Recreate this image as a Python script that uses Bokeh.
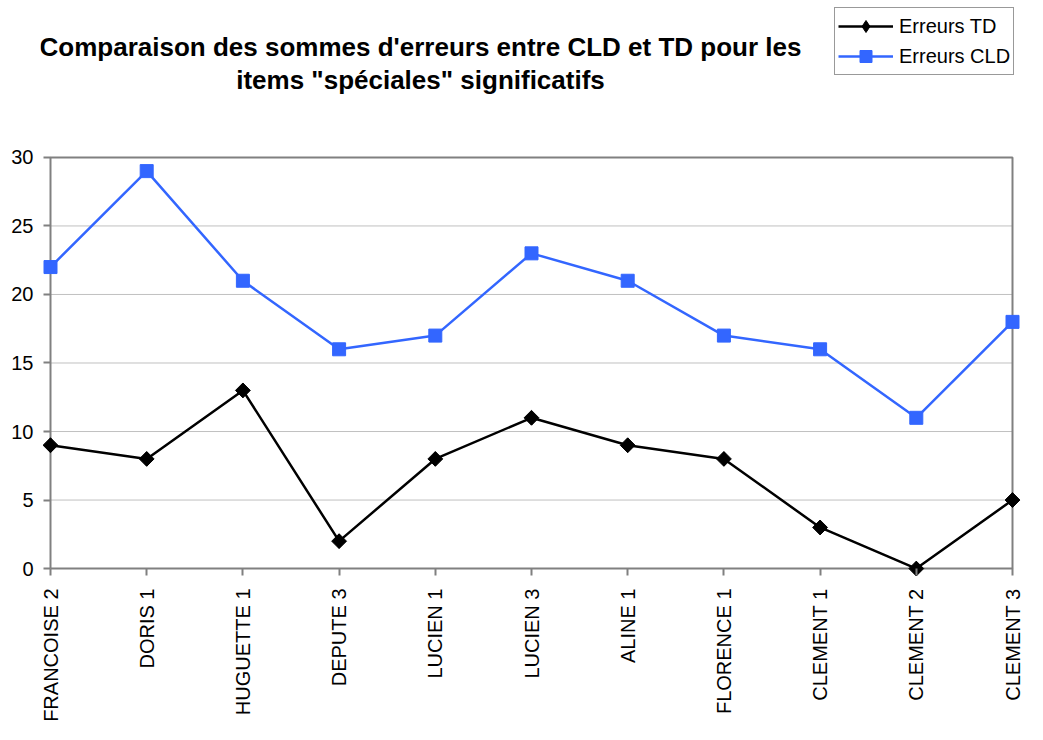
from bokeh.plotting import figure
from bokeh.models import Label, Legend, LegendItem, FixedTicker, Range1d
from bokeh.embed import file_html
from bokeh.resources import INLINE
import math

categories = ["FRANCOISE 2", "DORIS 1", "HUGUETTE 1", "DEPUTE 3", "LUCIEN 1", "LUCIEN 3",
              "ALINE 1", "FLORENCE 1", "CLEMENT 1", "CLEMENT 2", "CLEMENT 3"]
erreurs_td = [9, 8, 13, 2, 8, 11, 9, 8, 3, 0, 5]
erreurs_cld = [22, 29, 21, 16, 17, 23, 21, 17, 16, 11, 18]
y_ticks = [0, 5, 10, 15, 20, 25, 30]
title_lines = ["Comparaison des sommes d'erreurs entre CLD et TD pour les",
               "items \"spéciales\" significatifs"]

FONT = "Liberation Sans"
GRAY = "#808080"
xs = list(range(len(categories)))
x_last = xs[-1]
y_max = y_ticks[-1]

# page layout (pixels)
W, H = 1027, 724
PAD = 10            # room around the plot area so edge markers are not clipped
TICK = 7
frame_left, frame_right = 40, 1024
frame_bottom = H - 142
x0_px, xlast_px = frame_left + PAD, 1012
y0_px, ymax_px = frame_bottom - PAD, 158

sx = (xlast_px - x0_px) / x_last
sy = (y0_px - ymax_px) / y_max
x_range = Range1d(-PAD / sx, x_last + (frame_right - xlast_px) / sx)
y_range = Range1d(-PAD / sy, y_max + ymax_px / sy)

p = figure(width=W, height=H, output_backend="svg", toolbar_location=None,
           x_range=x_range, y_range=y_range,
           min_border_left=frame_left, min_border_right=W - frame_right,
           min_border_top=0, min_border_bottom=H - frame_bottom)
p.background_fill_color = "white"
p.border_fill_color = "white"
p.outline_line_color = None
p.xgrid.grid_line_color = None
p.ygrid.grid_line_color = None

# axes: ticks shifted inward so they hang off the plot-area border at x=0 / y=0
for ax in (p.xaxis, p.yaxis):
    ax.major_label_text_font = FONT
    ax.major_label_text_font_size = "20px"
    ax.major_label_text_color = "black"
    ax.axis_line_color = None
    ax.major_tick_line_color = GRAY
    ax.major_tick_line_width = 2
    ax.major_tick_in = PAD
    ax.major_tick_out = TICK - PAD
    ax.minor_tick_line_color = None

p.xaxis.ticker = FixedTicker(ticks=xs)
p.xaxis.major_label_overrides = {i: c for i, c in enumerate(categories)}
p.xaxis.major_label_orientation = math.pi / 2
p.xaxis.major_label_standoff = 10

p.yaxis.ticker = FixedTicker(ticks=y_ticks)
p.yaxis.major_label_standoff = 7

# dotted horizontal gridlines and the plot-area border
inner = y_ticks[1:-1]
p.segment(x0=[xs[0]] * len(inner), x1=[x_last] * len(inner), y0=inner, y1=inner,
          line_color=GRAY, line_width=1, line_dash="1 1")
p.line([xs[0], xs[0], x_last, x_last, xs[0]], [y_ticks[0], y_max, y_max, y_ticks[0], y_ticks[0]],
       line_color=GRAY, line_width=2)

# series
l_td = p.line(xs, erreurs_td, line_color="black", line_width=2.5)
# diamond marker (also used as the legend swatch); covered by the rotated square below
m_td_key = p.scatter(xs, erreurs_td, marker="diamond", size=14, fill_color="black",
                     line_color="black")
m_td = p.scatter(xs, erreurs_td, marker="square", angle=math.pi / 4, size=10.5,
                 fill_color="black", line_color="black")
l_cld = p.line(xs, erreurs_cld, line_color="#3366FF", line_width=2.5)
m_cld = p.scatter(xs, erreurs_cld, marker="square", size=13, fill_color="#3366FF",
                  line_color="#3366FF")

legend = Legend(items=[LegendItem(label="Erreurs TD", renderers=[l_td, m_td_key]),
                       LegendItem(label="Erreurs CLD", renderers=[l_cld, m_cld])],
                location=(794, frame_bottom - 79), orientation="vertical")
legend.label_text_font = FONT
legend.label_text_font_size = "20px"
legend.label_text_color = "black"
legend.glyph_width = 55
legend.glyph_height = 30
legend.label_standoff = 6
legend.padding = 3
legend.spacing = 0
legend.margin = 0
legend.border_line_color = "#333333"
legend.border_line_width = 1
legend.background_fill_alpha = 1
p.add_layout(legend, "center")

# title (two centred lines above the plot area)
title_cx = (420 - x0_px) / sx
title_y = [y_max + (ymax_px - 47) / sy, y_max + (ymax_px - 80) / sy]
for line, ty in zip(title_lines, title_y):
    p.add_layout(Label(x=title_cx, y=ty, text=line, text_align="center",
                       text_baseline="middle", text_font=FONT, text_font_size="26px",
                       text_font_style="bold", text_color="black"))

open("out.html", "w").write(file_html(p, INLINE))
